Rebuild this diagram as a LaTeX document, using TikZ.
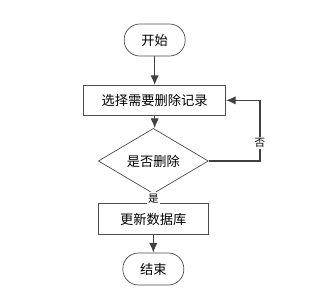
\documentclass[tikz,border=0pt]{standalone}
\usepackage{fontspec}
\newfontfamily\cjk{Noto Sans CJK SC}
\usetikzlibrary{arrows.meta,shapes.geometric}

\begin{document}
\begin{tikzpicture}[
font=\cjk\fontsize{11.3}{13}\selectfont,
terminal/.style={draw=black!70, line width=0.6pt, rounded corners=0.47cm, fill=white, align=center, minimum width=1.83cm, minimum height=0.96cm, inner sep=2pt},
process/.style={draw=black!70, line width=0.6pt, fill=white, align=center, minimum height=0.9cm, inner sep=3pt},
decision/.style={diamond, draw=black!70, line width=0.6pt, fill=white, align=center, minimum width=3.3cm, minimum height=1.08cm, inner sep=0pt},
arrow/.style={-{Latex[length=2.9mm,width=2.5mm]}, draw=black!75, line width=1pt},
thin arrow/.style={-{Latex[length=1mm,width=0.8mm]}, draw=black!75, line width=0.5pt},
small/.style={font=\cjk\fontsize{9}{10}\selectfont, fill=white, inner sep=1pt}
]
\useasboundingbox (0,0) rectangle (9.51,-8.82);

\node[terminal] (start) at (4.64,-1.2) {开始};
\node[process, minimum width=4.26cm] (select) at (4.64,-3.01) {选择需要删除记录};
\node[decision] (ask) at (4.6,-4.83) {是否删除};
\node[process, minimum width=3.3cm, minimum height=0.93cm] (update) at (4.6,-6.58) {更新数据库};
\node[terminal] (stop) at (4.6,-8.07) {结束};

\coordinate (right) at (7.8,-4.83);
\coordinate (back) at (7.8,-3.01);

\draw[arrow] (start) -- (select);
\draw[arrow] (select.south) -- (ask.north -| select.south);
\draw[thin arrow] (ask.south) -- node[small, pos=0.45] (yes) {是} (update.north);
\draw[arrow] (update) -- (stop);
\draw[arrow] (ask.east) -- (right) -- node[small, pos=0.3] (no) {否} (back) -- (select.east);
\end{tikzpicture}
\end{document}
